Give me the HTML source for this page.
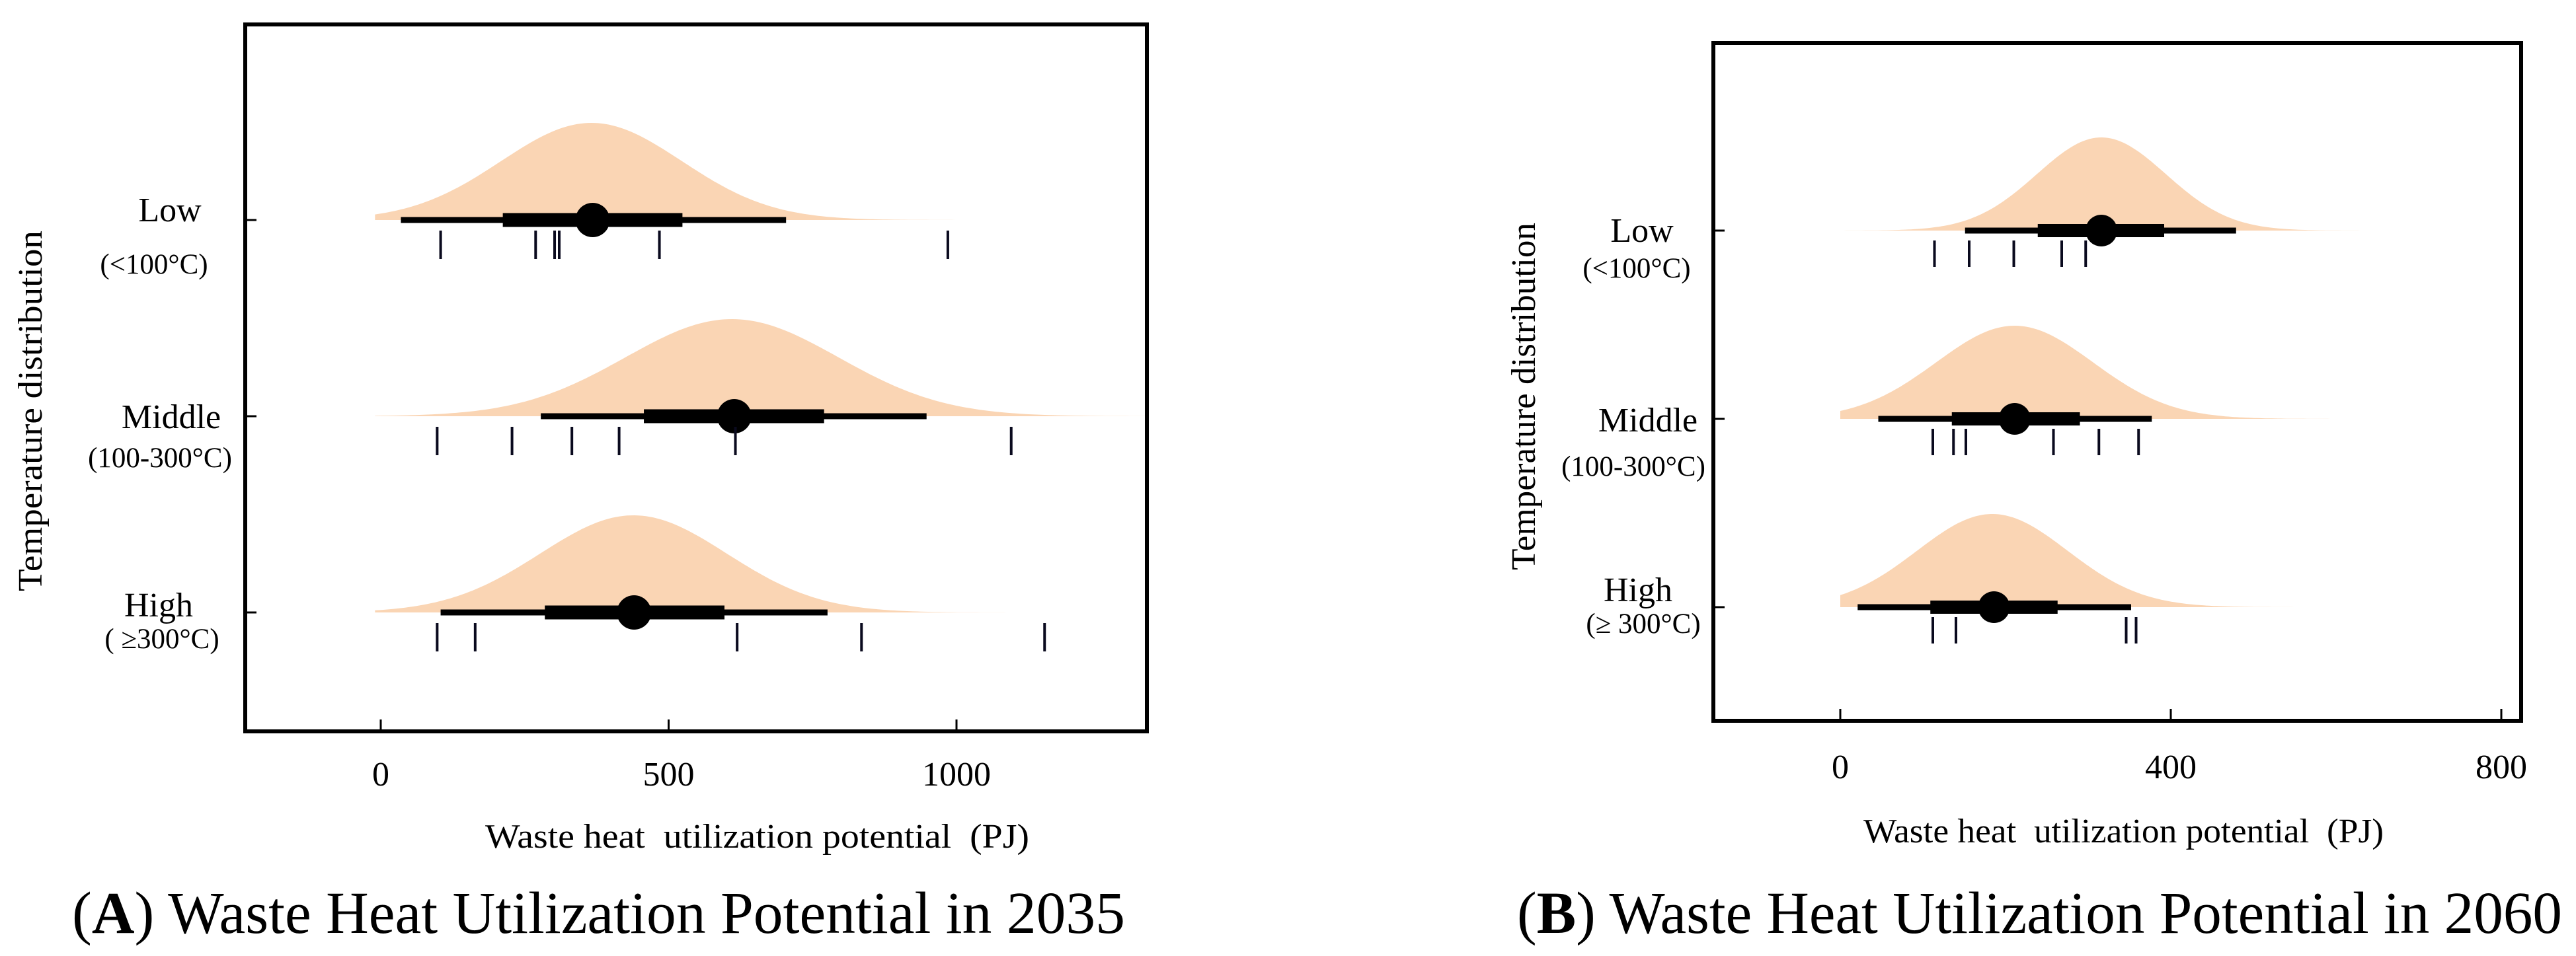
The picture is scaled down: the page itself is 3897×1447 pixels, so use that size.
<!DOCTYPE html>
<html><head><meta charset="utf-8"><style>
html,body{margin:0;padding:0;background:#fff;}
svg{display:block;}
text{font-family:"Liberation Serif","DejaVu Serif",serif;fill:#000;}
</style></head><body>
<svg id="fig" width="3897" height="1447" viewBox="0 0 3897 1447" xmlns="http://www.w3.org/2000/svg">
<g id="panelA">
  <g id="marksA"></g>
  <rect x="371" y="37" width="1364" height="1070" fill="none" stroke="#000" stroke-width="6"/>
  <g id="ticksA"></g>
  <text x="257" y="335" font-size="52" text-anchor="middle">Low</text>
  <text x="233" y="414" font-size="43" text-anchor="middle">(&lt;100°C)</text>
  <text x="259" y="648" font-size="52" text-anchor="middle">Middle</text>
  <text x="242" y="707" font-size="43" text-anchor="middle">(100-300°C)</text>
  <text x="240" y="933" font-size="52" text-anchor="middle">High</text>
  <text x="245" y="981" font-size="43" text-anchor="middle">( ≥300°C)</text>
  <text transform="translate(63,622) rotate(-90)" font-size="52" text-anchor="middle" textLength="546" lengthAdjust="spacingAndGlyphs">Temperature distribution</text>
  <text x="734" y="1283" font-size="52" textLength="823" lengthAdjust="spacingAndGlyphs" xml:space="preserve">Waste heat  utilization potential  (PJ)</text>
  <text x="109" y="1412" font-size="90" textLength="1593" lengthAdjust="spacingAndGlyphs">(<tspan font-weight="bold">A</tspan>) Waste Heat Utilization Potential in 2035</text>
</g>
<g id="panelB">
  <g id="marksB"></g>
  <rect x="2592" y="65" width="1222" height="1026" fill="none" stroke="#000" stroke-width="6"/>
  <g id="ticksB"></g>
  <text x="2484" y="366" font-size="52" text-anchor="middle">Low</text>
  <text x="2476" y="420" font-size="43" text-anchor="middle">(&lt;100°C)</text>
  <text x="2493" y="653" font-size="52" text-anchor="middle">Middle</text>
  <text x="2471" y="720" font-size="43" text-anchor="middle">(100-300°C)</text>
  <text x="2478" y="910" font-size="52" text-anchor="middle">High</text>
  <text x="2486" y="958" font-size="43" text-anchor="middle">(≥ 300°C)</text>
  <text transform="translate(2322,600) rotate(-90)" font-size="52" text-anchor="middle" textLength="526" lengthAdjust="spacingAndGlyphs">Temperature distribution</text>
  <text x="2819" y="1275" font-size="52" textLength="787" lengthAdjust="spacingAndGlyphs" xml:space="preserve">Waste heat  utilization potential  (PJ)</text>
  <text x="2295" y="1412" font-size="90" textLength="1581" lengthAdjust="spacingAndGlyphs">(<tspan font-weight="bold">B</tspan>) Waste Heat Utilization Potential in 2060</text>
</g>
</svg>
<script>
const categories = ["low", "middle", "high"];
// Panel A (2035)
const aTicks = [0, 500, 1000];
const aTickLabels = ["0", "500", "1000"];
const aMode = [366, 610, 439];
const aSd = [157, 185, 162];
const aMin = [-10, -10, -10];
const aMax = [1242, 1400, 1297];
const aQ05 = [35, 278, 104];
const aQ25 = [212, 457, 285];
const aMedian = [368, 614, 440];
const aQ75 = [524, 770, 597];
const aQ95 = [704, 948, 776];
const aRug = [[104, 269, 302, 310, 484, 985], [98, 228, 332, 414, 616, 1095], [98, 164, 619, 835, 1153]];
// Panel B (2060)
const bTicks = [0, 400, 800];
const bTickLabels = ["0", "400", "800"];
const bMode = [316, 211, 184];
const bSd = [78, 95, 91];
const bMin = [0, 0, 0];
const bMax = [745, 706, 607];
const bQ05 = [151, 46, 21];
const bQ25 = [239, 135, 109];
const bMedian = [316, 211, 186];
const bQ75 = [392, 290, 263];
const bQ95 = [479, 377, 352];
const bRug = [[114, 156, 210, 268, 297], [112, 137, 152, 258, 313, 361], [112, 140, 346, 358]];

const NS = "http://www.w3.org/2000/svg";
function mk(tag, attrs, parent) {
  const e = document.createElementNS(NS, tag);
  for (const k in attrs) e.setAttribute(k, attrs[k]);
  parent.appendChild(e);
  return e;
}

function drawPanel(cfg) {
  const g = document.getElementById(cfg.marks);
  const tg = document.getElementById(cfg.ticks);
  const x = v => cfg.x0 + (v - cfg.v0) * (cfg.x1 - cfg.x0) / (cfg.v1 - cfg.v0);
  categories.forEach((c, i) => {
    const y0 = cfg.rowY[i];
    // density
    let d = "";
    const lo = cfg.min[i], hi = cfg.max[i];
    const steps = 200;
    for (let s = 0; s <= steps; s++) {
      const v = lo + (hi - lo) * s / steps;
      const z = (v - cfg.mode[i]) / cfg.sd[i];
      const h = cfg.peakH * Math.exp(-0.5 * z * z);
      d += (s === 0 ? "M" : "L") + Math.min(x(v), cfg.clipX).toFixed(1) + "," + (y0 - h).toFixed(1);
    }
    d += "L" + Math.min(x(hi), cfg.clipX).toFixed(1) + "," + y0 + "L" + x(lo).toFixed(1) + "," + y0 + "Z";
    const p = mk("path", {d: d, fill: "#fad5b4"}, g);
    
    
    // thin interval
    const l1 = mk("line", {x1: x(cfg.q05[i]), x2: x(cfg.q95[i]), y1: y0, y2: y0, stroke: "#000", "stroke-width": cfg.thin}, g);
    
    
    const l2 = mk("line", {x1: x(cfg.q25[i]), x2: x(cfg.q75[i]), y1: y0, y2: y0, stroke: "#000", "stroke-width": cfg.thick}, g);
    
    
    const dot = mk("circle", {cx: x(cfg.median[i]), cy: y0, r: cfg.r, fill: "#000"}, g);
    
    
    cfg.rug[i].forEach((v, j) => {
      const r = mk("line", {x1: x(v), x2: x(v), y1: y0 + cfg.rugTop, y2: y0 + cfg.rugBot, stroke: "#0a0a1e", "stroke-width": 4}, g);
      
      
    });
    const yt = mk("line", {x1: cfg.boxL, x2: cfg.boxL + 17, y1: y0, y2: y0, stroke: "#000", "stroke-width": 3}, tg);
    
    
  });
  cfg.tickVals.forEach((v, i) => {
    const t = mk("line", {x1: x(v), x2: x(v), y1: cfg.boxB - 18, y2: cfg.boxB, stroke: "#000", "stroke-width": 3}, tg);
    
    
    const tx = mk("text", {x: x(v), y: cfg.tickY, "font-size": 52, "text-anchor": "middle"}, tg);
    tx.textContent = cfg.tickLabels[i];
    
    
  });
}

drawPanel({id: "a", marks: "marksA", ticks: "ticksA", x0: 576, x1: 1447, v0: 0, v1: 1000,
  rowY: [333, 630, 927], peakH: 147, clipX: 1732, boxL: 371, boxB: 1107, tickY: 1189,
  mode: aMode, sd: aSd, min: aMin, max: aMax, q05: aQ05, q25: aQ25, median: aMedian, q75: aQ75, q95: aQ95, rug: aRug,
  tickVals: aTicks, tickLabels: aTickLabels, thin: 9, thick: 21, r: 26, rugTop: 16, rugBot: 59});
drawPanel({id: "b", marks: "marksB", ticks: "ticksB", x0: 2784, x1: 3784, v0: 0, v1: 800,
  rowY: [349, 634, 919], peakH: 141, clipX: 3811, boxL: 2592, boxB: 1091, tickY: 1178,
  mode: bMode, sd: bSd, min: bMin, max: bMax, q05: bQ05, q25: bQ25, median: bMedian, q75: bQ75, q95: bQ95, rug: bRug,
  tickVals: bTicks, tickLabels: bTickLabels, thin: 9, thick: 20, r: 24, rugTop: 15, rugBot: 55});
</script>
</body></html>
